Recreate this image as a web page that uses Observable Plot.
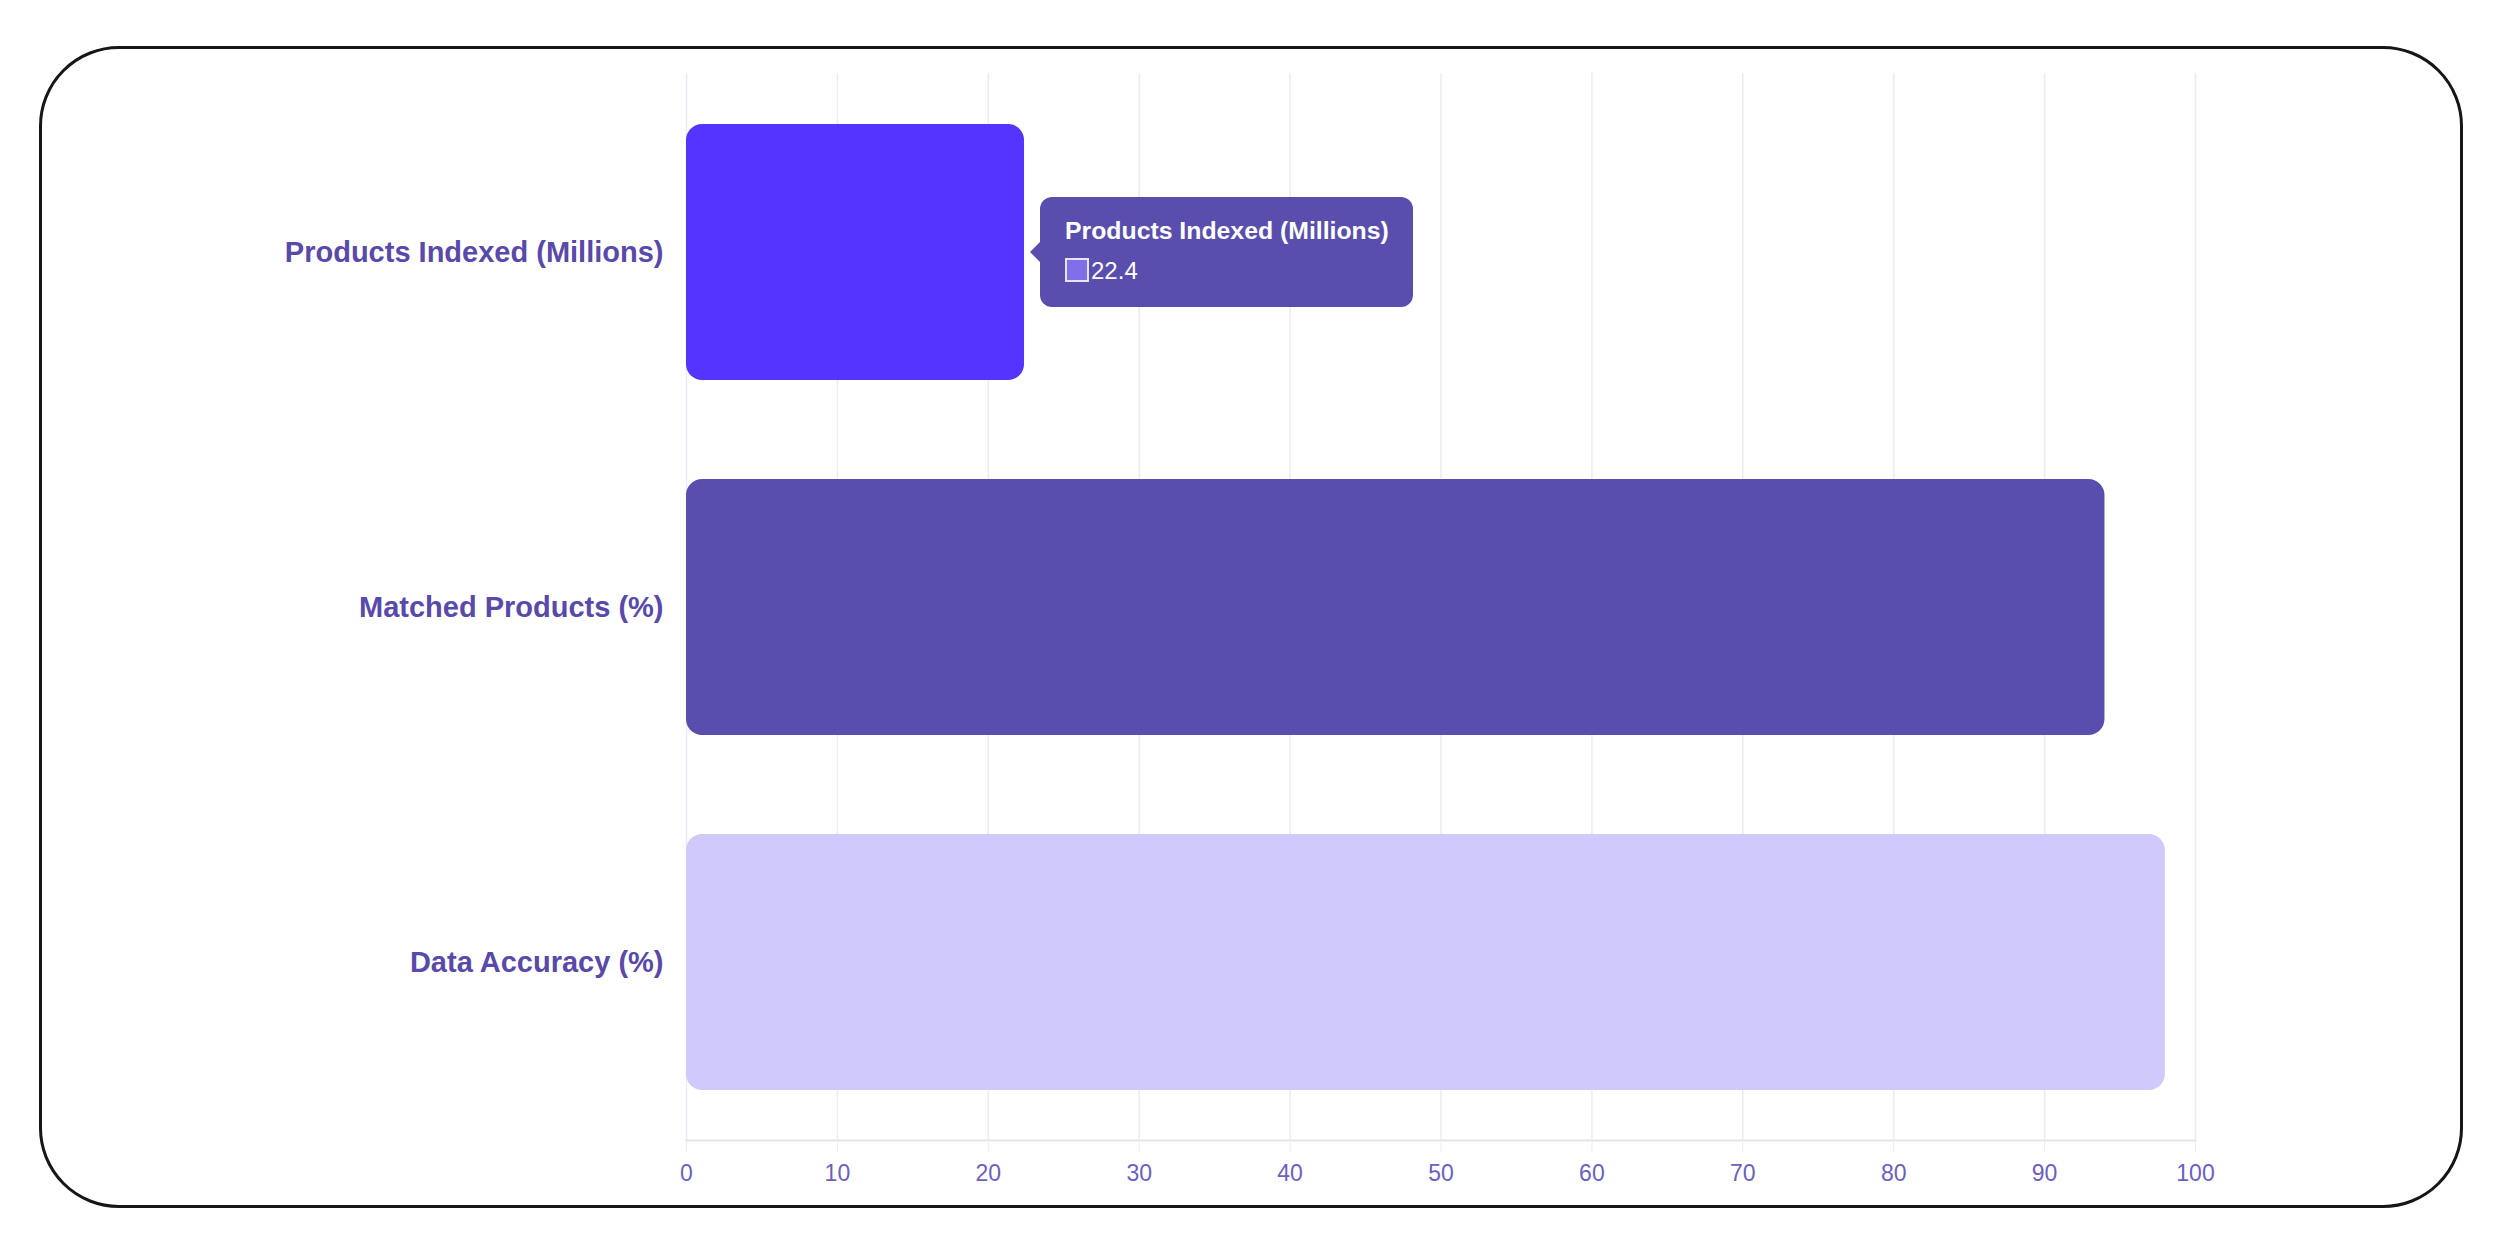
<!DOCTYPE html>
<html>
<head>
<meta charset="utf-8">
<script src="https://cdn.jsdelivr.net/npm/d3@7"></script>
<script src="https://cdn.jsdelivr.net/npm/@observablehq/plot@0.6"></script>
<style>
  html, body { margin: 0; padding: 0; background: #fff; }
  #wrap { position: relative; width: 2497px; height: 1240px; overflow: hidden; font-family: "Liberation Sans", Arial, sans-serif; }
  #frame { position: absolute; left: 39px; top: 46px; width: 2424px; height: 1162px; box-sizing: border-box;
           border: 3px solid #161616; border-radius: 80px; pointer-events: none; }
  #chart { position: absolute; left: 0; top: 0; }
  .tip { position: absolute; width: 373px; height: 110px; background: #594ead; border-radius: 12px; color: #fff; }
  .tip::before { content: ""; position: absolute; left: -10px; top: 45px; border-top: 10px solid transparent;
                 border-bottom: 10px solid transparent; border-right: 10px solid #594ead; }
  .tip .ttl { position: absolute; left: 25px; top: 22px; font-size: 24.8px; line-height: 24px; font-weight: bold; white-space: nowrap; }
  .tip .sw { position: absolute; left: 25px; top: 61px; width: 20px; height: 20px; background: #7f6fe8; border: 2px solid #e8e4ff; }
  .tip .val { position: absolute; left: 51px; top: 62px; font-size: 24px; line-height: 24px; white-space: nowrap; }
</style>
</head>
<body>
<div id="wrap">
  <div id="chart"></div>
  <div id="frame"></div>
</div>
<script>
// ---- data ----
const categories = ["Products Indexed (Millions)", "Matched Products (%)", "Data Accuracy (%)"];
const values = [22.4, 94, 98];
const barColors = ["#5534ff", "#594ead", "#d0c9fc"];
const xTicks = [0, 10, 20, 30, 40, 50, 60, 70, 80, 90, 100];
const tooltipIndex = 0;

const rows = categories.map((c, i) => ({category: c, value: values[i]}));

const chart = Plot.plot({
  width: 2497,
  height: 1240,
  marginLeft: 686,
  marginRight: 302,
  marginTop: 73,
  marginBottom: 100,
  style: {fontFamily: "'Liberation Sans', Arial, sans-serif", background: "transparent"},
  x: {domain: [0, 100], ticks: xTicks, label: null},
  y: {domain: categories, paddingInner: 0.28, paddingOuter: 0.14, label: null},
  color: {domain: categories, range: barColors},
  marks: [
    Plot.gridX(xTicks, {stroke: "#ebebf2", strokeOpacity: 1, strokeWidth: 1.5}),
    Plot.frame({anchor: "bottom", stroke: "#e3e3ea", strokeWidth: 2}),
    Plot.barX(rows, {y: "category", x: "value", fill: "category", rx: 16}),
    Plot.axisX(xTicks, {tickSize: 12, stroke: "#ebebf2", fill: "#6a60c0", fontSize: 23, tickPadding: 12, label: null}),
    Plot.axisY({tickSize: 0, tickPadding: 23, fontSize: 29, fontWeight: "bold", fill: "#5849ab", label: null})
  ]
});
document.getElementById("chart").appendChild(chart);

// tooltip positioned from the chart's own scales
const xs = chart.scale("x"), ys = chart.scale("y");
const tx = xs.apply(values[tooltipIndex]) + 16;
const ty = ys.apply(categories[tooltipIndex]) + ys.bandwidth / 2 - 55;
const tip = d3.select("#wrap").append("div").attr("class", "tip")
  .style("left", tx + "px").style("top", ty + "px");
tip.append("div").attr("class", "ttl").text(categories[tooltipIndex]);
tip.append("div").attr("class", "sw");
tip.append("div").attr("class", "val").text(values[tooltipIndex]);
</script>
</body>
</html>
